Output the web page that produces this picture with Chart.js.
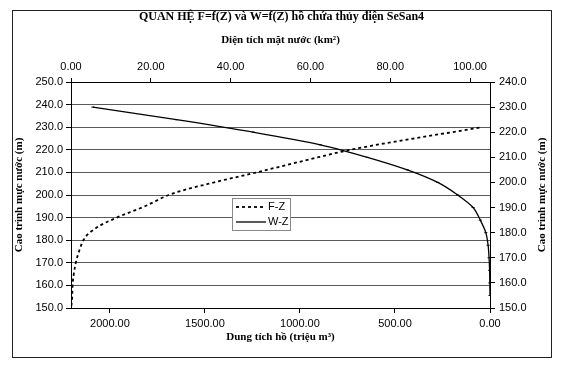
<!DOCTYPE html>
<html>
<head>
<meta charset="utf-8">
<script src="https://cdn.jsdelivr.net/npm/chart.js@4.4.1/dist/chart.umd.min.js"></script>
<style>
  html, body { margin: 0; padding: 0; background: #fff; }
  #wrap { width: 576px; height: 380px; }
</style>
</head>
<body>
<div id="wrap"><canvas id="myChart"></canvas></div>
<script>
// F-Z: dien tich mat nuoc (km2) theo cao trinh (truc trai)
const zF = [151, 155, 160, 165, 170, 175, 180, 185, 190, 195, 200, 205, 210, 215, 220, 225, 230];
const areaF = [0.1, 0.3, 0.4, 0.7, 1.2, 2.0, 3.1, 6.0, 11.5, 18.5, 24.5, 34.5, 46.5, 58, 70, 86, 103];

// W-Z: dung tich ho (trieu m3) theo cao trinh (truc phai)
const zW = [155, 160, 165, 170, 175, 180, 185, 190, 195, 200, 205, 210, 215, 220, 225, 230];
const volW = [0, 1, 2, 5, 10, 22, 51, 89, 170, 275, 435, 645, 893, 1245, 1650, 2090];

// vach chia
const topTicks = [0, 20, 40, 60, 80, 100];
const bottomTicks = [0, 500, 1000, 1500, 2000];
const leftTicks = [150, 160, 170, 180, 190, 200, 210, 220, 230, 240, 250];
const rightTicks = [150, 160, 170, 180, 190, 200, 210, 220, 230, 240];

const tickFont = { family: 'Liberation Sans', size: 11 };
const titleFont = { family: 'Liberation Serif', size: 11, weight: 'bold' };
const rightTitle = 'Cao trình mực nước (m)';

function setTicks(list) {
    return function (scale) {
        scale.ticks = list.map(v => ({ value: v }));
    };
}

// khung ngoai + nen trang
const frame = {
    id: 'frame',
    beforeDraw(chart) {
        const ctx = chart.ctx;
        ctx.save();
        ctx.fillStyle = '#fff';
        ctx.fillRect(0, 0, chart.width, chart.height);
        ctx.strokeStyle = '#222';
        ctx.lineWidth = 1;
        ctx.strokeRect(12.5, 10.5, 539, 347);
        ctx.restore();
    }
};

// chu thich trong vung ve + tieu de truc phai
const extras = {
    id: 'extras',
    afterDraw(chart) {
        const ctx = chart.ctx;
        ctx.save();
        // legend
        ctx.fillStyle = '#fff';
        ctx.fillRect(232, 198, 58, 32);
        ctx.strokeStyle = '#888';
        ctx.lineWidth = 1;
        ctx.strokeRect(232.5, 198.5, 58, 32);
        ctx.strokeStyle = '#000';
        ctx.lineWidth = 1.8;
        ctx.setLineDash([3, 3]);
        ctx.beginPath(); ctx.moveTo(236, 207); ctx.lineTo(266, 207); ctx.stroke();
        ctx.setLineDash([]);
        ctx.lineWidth = 1.3;
        ctx.beginPath(); ctx.moveTo(236, 222); ctx.lineTo(266, 222); ctx.stroke();
        ctx.fillStyle = '#000';
        ctx.font = '11px "Liberation Sans"';
        ctx.textBaseline = 'middle';
        ctx.textAlign = 'left';
        ctx.fillText('F-Z', 268, 207);
        ctx.fillText('W-Z', 268, 222);
        // right axis title, read bottom to top
        ctx.translate(542, 195);
        ctx.rotate(-Math.PI / 2);
        ctx.font = 'bold 11px "Liberation Serif"';
        ctx.textAlign = 'center';
        ctx.fillText(rightTitle, 0, 0);
        ctx.restore();
    }
};

new Chart(document.getElementById('myChart'), {
    type: 'scatter',
    data: {
        datasets: [{
            label: 'F-Z',
            data: zF.map((z, i) => ({ x: areaF[i], y: z })),
            xAxisID: 'xTop',
            yAxisID: 'yLeft',
            showLine: true,
            borderColor: '#000',
            borderWidth: 1.8,
            borderDash: [3, 3],
            pointRadius: 0,
            cubicInterpolationMode: 'monotone'
        }, {
            label: 'W-Z',
            data: zW.map((z, i) => ({ x: volW[i], y: z })),
            xAxisID: 'xBottom',
            yAxisID: 'yRight',
            showLine: true,
            borderColor: '#000',
            borderWidth: 1.3,
            pointStyle: 'line',
            pointRadius: 1.5,
            pointBorderColor: '#000',
            pointBorderWidth: 1,
            tension: 0.3
        }]
    },
    options: {
        responsive: true,
        maintainAspectRatio: false,
        animation: false,
        devicePixelRatio: 1,
        layout: { padding: { left: 12, right: 25, top: 0, bottom: 22 } },
        plugins: {
            legend: { display: false },
            tooltip: { enabled: false },
            title: {
                display: true,
                text: 'QUAN HỆ F=f(Z) và W=f(Z) hồ chứa thủy điện SeSan4',
                color: '#000',
                font: { family: 'Liberation Serif', size: 12, weight: 'bold' },
                padding: { top: 9.5, bottom: 2 }
            }
        },
        scales: {
            xTop: {
                type: 'linear', position: 'top', min: 0, max: 105,
                afterBuildTicks: setTicks(topTicks),
                afterFit: s => { s.height = 82 - 25.9; },
                grid: { drawOnChartArea: false, tickLength: 4, color: '#000' },
                border: { color: '#000', width: 1 },
                ticks: { color: '#000', font: tickFont, padding: 4, maxRotation: 0, callback: v => v.toFixed(2) },
                title: { display: true, text: 'Diện tích mặt nước (km²)', color: '#000', font: titleFont, padding: { top: 7.5, bottom: 0 } }
            },
            xBottom: {
                type: 'linear', position: 'bottom', min: 0, max: 2205, reverse: true,
                afterBuildTicks: setTicks(bottomTicks),
                afterFit: s => { s.height = 50; },
                grid: { drawOnChartArea: false, tickLength: 5, color: '#000' },
                border: { color: '#000', width: 1 },
                ticks: { color: '#000', font: tickFont, padding: 4, maxRotation: 0, callback: v => v.toFixed(2) },
                title: { display: true, text: 'Dung tích hồ (triệu m³)', color: '#000', font: titleFont, padding: { top: 0, bottom: 14 } }
            },
            yLeft: {
                type: 'linear', position: 'left', min: 150, max: 250,
                afterBuildTicks: setTicks(leftTicks),
                afterFit: s => { s.width = 59; },
                grid: { color: '#5a5a5a', tickColor: '#000', tickLength: 5 },
                border: { color: '#000', width: 1 },
                ticks: { color: '#000', font: tickFont, padding: 3, callback: v => v.toFixed(1) },
                title: { display: true, text: 'Cao trình mực nước (m)', color: '#000', font: titleFont, padding: { top: 1, bottom: 0 } }
            },
            yRight: {
                type: 'linear', position: 'right', min: 150, max: 240,
                afterBuildTicks: setTicks(rightTicks),
                afterFit: s => { s.width = 61; },
                grid: { drawOnChartArea: false, tickLength: 5, color: '#000' },
                border: { color: '#000', width: 1 },
                ticks: { color: '#000', font: tickFont, padding: 4, callback: v => v.toFixed(1) }
            }
        }
    },
    plugins: [frame, extras]
});
</script>
</body>
</html>
